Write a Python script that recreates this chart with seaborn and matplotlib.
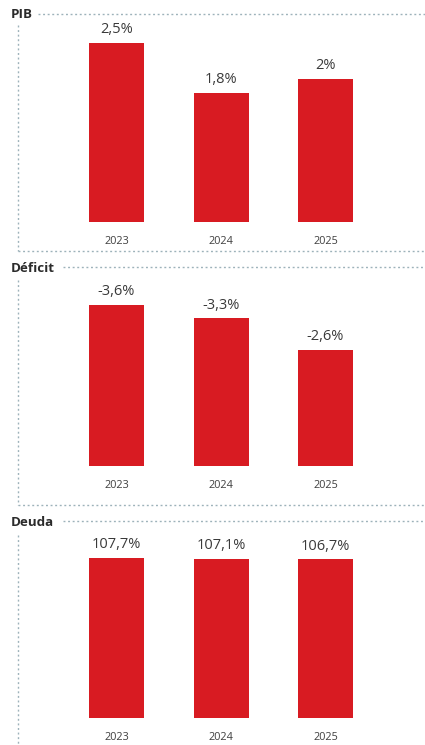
import matplotlib
matplotlib.use("Agg")
import matplotlib.pyplot as plt
from matplotlib.lines import Line2D
import seaborn as sns

# data
years = ["2023", "2024", "2025"]
pib = [2.5, 1.8, 2.0]
deficit = [-3.6, -3.3, -2.6]
deuda = [107.7, 107.1, 106.7]
titles = ["PIB", "Déficit", "Deuda"]

sns.set_style("white")
plt.rcParams["font.family"] = ["Open Sans", "DejaVu Sans"]

W, H = 425, 745
RED = "#d81b22"
DOT = "#9db2ba"

fig = plt.figure(figsize=(W / 100, H / 100), dpi=100)


def fx(x):
    return x / W


def fy(y):
    return 1 - y / H


def dotted(x0, y0, x1, y1):
    fig.add_artist(Line2D([fx(x0), fx(x1)], [fy(y0), fy(y1)], transform=fig.transFigure,
                          color=DOT, lw=1.0, linestyle=(0, (1.4, 1.9))))


def fmt(v):
    return f"{v:g}".replace(".", ",") + "%"


# panel layout in pixels: title y, title-line start x, axes top, bar baseline, bottom border
panels = [
    (pib, 15, 38, 25, 222, 251, 2.75),
    (deficit, 268, 63, 280, 466, 505, 4.16),
    (deuda, 522, 63, 535, 718, None, 123.0),
]

for (vals, ty, lx, top, base, bottom, ymax), title in zip(panels, titles):
    ax = fig.add_axes([fx(18), fy(base), fx(W - 18), (base - top) / H])
    heights = [abs(v) for v in vals]
    sns.barplot(x=years, y=heights, color=RED, saturation=1, width=0.526, ax=ax)
    for p in ax.patches:
        p.set_edgecolor("none")
    ax.bar_label(ax.containers[0], labels=[fmt(v) for v in vals], padding=4,
                 fontsize=10.5, color="#3a3a3a")
    ax.set_xlim(-0.943, 2.952)
    ax.set_ylim(0, ymax)
    ax.set_yticks([])
    ax.tick_params(axis="x", length=0, pad=10, labelsize=7.8, labelcolor="#3f3f3f")
    ax.set_xlabel("")
    ax.set_ylabel("")
    for s in ax.spines.values():
        s.set_visible(False)
    ax.patch.set_alpha(0)

    fig.text(fx(11), fy(ty), title, fontsize=9.6, fontweight="bold", color="#2b2b2b",
             ha="left", va="center")
    dotted(lx, ty - 1, W, ty - 1)
    dotted(18, top, 18, bottom if bottom else H)
    if bottom:
        dotted(18, bottom, W, bottom)

fig.savefig("out.png", dpi=100, facecolor="white")
